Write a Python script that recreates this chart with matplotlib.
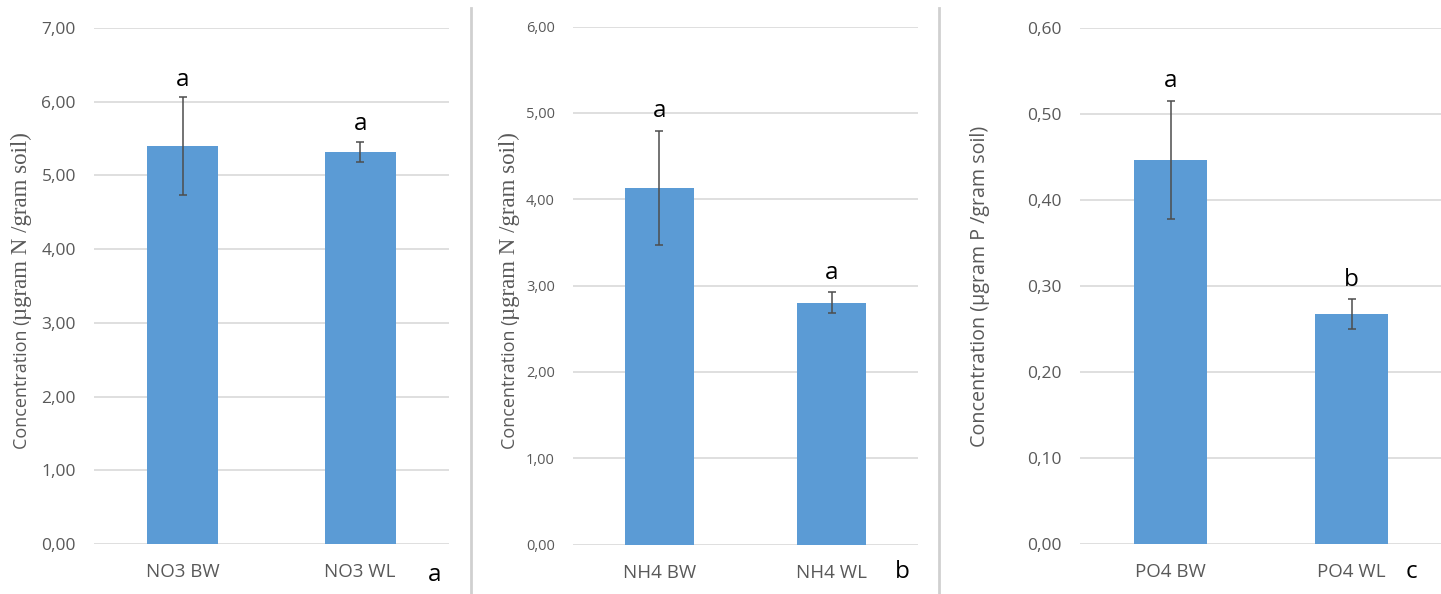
import matplotlib
matplotlib.use("Agg")
import matplotlib.pyplot as plt

# ---- data ----
no3_labels = ["NO3 BW", "NO3 WL"]
no3_means = [5.40, 5.32]
no3_err = [0.66, 0.14]
no3_sig = ["a", "a"]

nh4_labels = ["NH4 BW", "NH4 WL"]
nh4_means = [4.13, 2.80]
nh4_err = [0.66, 0.12]
nh4_sig = ["a", "a"]

po4_labels = ["PO4 BW", "PO4 WL"]
po4_means = [0.446, 0.267]
po4_err = [0.069, 0.017]
po4_sig = ["a", "b"]

no3_ticks = [0, 1, 2, 3, 4, 5, 6, 7]
nh4_ticks = [0, 1, 2, 3, 4, 5, 6]
po4_ticks = [0.0, 0.1, 0.2, 0.3, 0.4, 0.5, 0.6]

panel_letters = ["a", "b", "c"]

# ---- style ----
W, H = 1441, 594
DPI = 100
BAR = "#5B9BD5"
GRID = "#D9D9D9"
TXT = "#595959"
ERR = "#4D4D4D"
SANS = "Open Sans"
SERIF = "Liberation Serif"

fig = plt.figure(figsize=(W / DPI, H / DPI), dpi=DPI)
fig.patch.set_facecolor("white")


def px_axes(x0, x1, ytop, ybot):
    return fig.add_axes([x0 / W, 1 - ybot / H, (x1 - x0) / W, (ybot - ytop) / H])


def comma(v):
    return f"{v:.2f}".replace(".", ",")


def panel(ax, labels, means, errs, sig, ticks, tick_size, sig_offset):
    x = list(range(len(labels)))
    ax.bar(x, means, width=0.4, color=BAR, zorder=2)
    ax.errorbar(x, means, yerr=errs, fmt="none", ecolor=ERR, elinewidth=1.1,
                capsize=3, capthick=1.1, zorder=3)
    ax.set_xlim(-0.5, len(labels) - 0.5)
    ax.set_ylim(ticks[0], ticks[-1])
    ax.set_yticks(ticks)
    ax.set_yticklabels([comma(t) for t in ticks], fontsize=tick_size,
                       color=TXT, family=SANS)
    ax.set_xticks(x)
    ax.set_xticklabels(labels, fontsize=13.5, color=TXT, family=SANS)
    ax.tick_params(axis="y", length=0, pad=13)
    ax.tick_params(axis="x", length=0, pad=14)
    for s in ax.spines.values():
        s.set_visible(False)
    ax.yaxis.grid(True, color=GRID, linewidth=1.2, zorder=0)
    ax.set_axisbelow(True)
    for xi, m, e, s in zip(x, means, errs, sig):
        ax.annotate(s, (xi, m + e), xytext=(0, sig_offset),
                    textcoords="offset points", ha="center", va="baseline",
                    fontsize=17.5, family=SANS, color="black")


ax1 = px_axes(94, 449, 28, 544)
panel(ax1, no3_labels, no3_means, no3_err, no3_sig, no3_ticks, 12.5, 8)

ax2 = px_axes(573, 918, 26.5, 544.5)
panel(ax2, nh4_labels, nh4_means, nh4_err, nh4_sig, nh4_ticks, 10.5, 10)

ax3 = px_axes(1080, 1442, 27.7, 543.6)
panel(ax3, po4_labels, po4_means, po4_err, po4_sig, po4_ticks, 12.5, 10)

# y-axis titles, drawn piecewise (sans / serif) along a shared baseline
renderer = fig.canvas.get_renderer()


def ylabel(xb, yb, pieces):
    y = yb
    for txt, fam, size in pieces:
        t = fig.text(xb / W, 1 - y / H, txt, rotation=90, rotation_mode="anchor",
                     ha="left", va="baseline", fontsize=size, family=fam, color=TXT)
        bb = t.get_window_extent(renderer)
        y -= bb.height


ylabel(27, 449, [("Concentration (", SANS, 13), ("\u00b5gram N /gram soil)", SERIF, 16.5)])
ylabel(515, 449, [("Concentration (", SANS, 13), ("\u00b5gram N /gram soil)", SERIF, 16.5)])
ylabel(985, 447, [("Concentration (\u00b5gram P /gram soil)", SANS, 14.2)])

# panel letters
for (xp, yp), letter in zip([(435, 581), (902, 578), (1411, 578)], panel_letters):
    fig.text(xp / W, 1 - yp / H, letter, ha="center", va="baseline",
             fontsize=17.5, family=SANS, color="black")

# vertical separators between panels
for xs in (471, 939):
    fig.add_artist(plt.Line2D([xs / W, xs / W], [0, 1 - 8 / H],
                              transform=fig.transFigure, color="#D0D0D0", linewidth=2))

fig.savefig("out.png", dpi=DPI)
